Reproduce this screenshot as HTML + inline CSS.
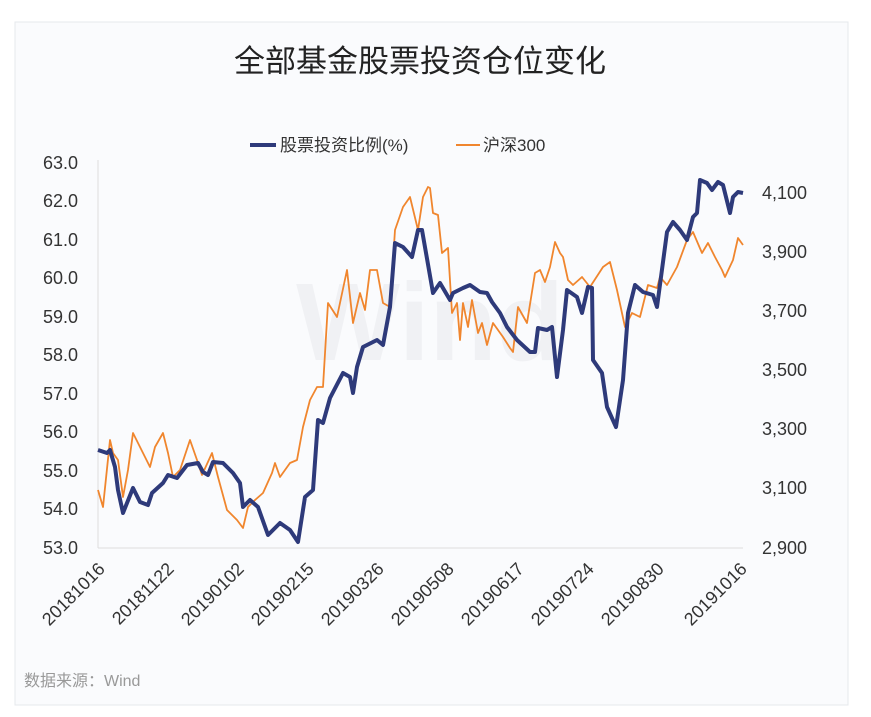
<!DOCTYPE html>
<html><head><meta charset="utf-8"><style>
body{margin:0;background:#fff;width:871px;height:712px;overflow:hidden;font-family:"Liberation Sans","Noto Sans CJK SC",sans-serif}
</style></head><body>
<svg width="871" height="712" xmlns="http://www.w3.org/2000/svg" font-family="Liberation Sans, Noto Sans CJK SC, sans-serif">
<rect x="15" y="22" width="833" height="683" fill="#fafbfd" stroke="#e6e8ec"/>
<text x="420" y="72" font-size="31" text-anchor="middle" fill="#222">全部基金股票投资仓位变化</text>
<line x1="250" y1="145" x2="276" y2="145" stroke="#2e3a7a" stroke-width="4"/>
<text x="280" y="151" font-size="17" fill="#333">股票投资比例(%)</text>
<line x1="456" y1="145" x2="480" y2="145" stroke="#f0862e" stroke-width="2"/>
<text x="483" y="151" font-size="17" fill="#333">沪深300</text>
<text x="430" y="360" font-size="110" font-weight="bold" fill="#f0f1f4" text-anchor="middle">Wind</text>
<line x1="98" y1="160" x2="98" y2="548" stroke="#ddd"/>
<line x1="98" y1="548" x2="743" y2="548" stroke="#ddd"/>
<g font-size="18" fill="#333" text-anchor="end">
<text x="78" y="169">63.0</text><text x="78" y="207">62.0</text><text x="78" y="246">61.0</text><text x="78" y="284">60.0</text><text x="78" y="323">59.0</text><text x="78" y="361">58.0</text><text x="78" y="400">57.0</text><text x="78" y="438">56.0</text><text x="78" y="477">55.0</text><text x="78" y="515">54.0</text><text x="78" y="554">53.0</text>
</g>
<g font-size="18" fill="#333" text-anchor="start">
<text x="762" y="199">4,100</text><text x="762" y="258">3,900</text><text x="762" y="317">3,700</text><text x="762" y="376">3,500</text><text x="762" y="435">3,300</text><text x="762" y="494">3,100</text><text x="762" y="554">2,900</text>
</g>
<g font-size="18" fill="#333" text-anchor="end">
<text transform="translate(106,570) rotate(-45)">20181016</text>
<text transform="translate(175,570) rotate(-45)">20181122</text>
<text transform="translate(245,570) rotate(-45)">20190102</text>
<text transform="translate(315,570) rotate(-45)">20190215</text>
<text transform="translate(385,570) rotate(-45)">20190326</text>
<text transform="translate(455,570) rotate(-45)">20190508</text>
<text transform="translate(525,570) rotate(-45)">20190617</text>
<text transform="translate(595,570) rotate(-45)">20190724</text>
<text transform="translate(665,570) rotate(-45)">20190830</text>
<text transform="translate(748,570) rotate(-45)">20191016</text>
</g>
<polyline fill="none" stroke="#f0862e" stroke-width="1.8" stroke-linejoin="round" points="98,490 103,507 110,440 113,453 118,460 123,497 128,470 133,433 145,457 150,467 155,447 163,433 168,453 173,477 180,470 190,440 197,460 202,475 212,453 218,477 227,510 237,520 243,528 248,507 255,500 263,493 272,473 275,463 280,477 290,463 297,460 303,427 310,400 317,387 323,387 328,303 337,317 347,270 353,323 360,293 365,310 370,270 377,270 383,303 390,307 395,230 403,207 410,197 418,230 423,197 428,187 430,188 433,213 438,215 442,253 448,248 452,313 457,303 460,340 463,303 468,327 472,300 478,333 482,323 487,345 493,323 503,337 510,348 513,352 518,307 527,323 535,273 540,270 545,282 550,267 555,242 560,253 563,257 568,280 573,285 582,277 590,287 603,267 610,262 617,290 625,327 632,313 640,317 648,285 657,288 660,277 667,285 677,267 687,240 693,232 702,253 708,243 715,257 722,270 725,277 733,260 738,238 743,245"/>
<polyline fill="none" stroke="#2e3a7a" stroke-width="4" stroke-linejoin="round" points="98,450 107,453 110,450 115,467 118,490 123,513 133,488 140,502 148,505 152,493 163,483 168,475 177,478 187,465 198,463 203,472 208,475 213,462 223,463 233,473 240,483 243,507 250,500 258,507 268,535 280,523 290,530 298,542 305,497 313,490 318,420 323,423 330,398 343,373 350,377 353,393 357,367 363,347 377,340 383,345 390,307 395,243 403,247 412,257 418,230 422,230 433,293 440,283 450,300 453,293 463,288 470,285 480,292 487,293 492,302 500,313 507,327 517,340 530,352 535,352 538,328 547,330 552,327 557,377 563,330 567,290 577,297 582,313 588,287 592,288 593,360 602,373 607,407 616,427 623,380 628,313 635,285 643,292 653,295 657,307 667,232 673,222 680,230 687,240 693,217 697,213 700,180 707,183 712,190 718,182 723,185 730,213 733,197 738,192 743,193"/>
<text x="24" y="686" font-size="16" fill="#999">数据来源：Wind</text>
</svg>
</body></html>
